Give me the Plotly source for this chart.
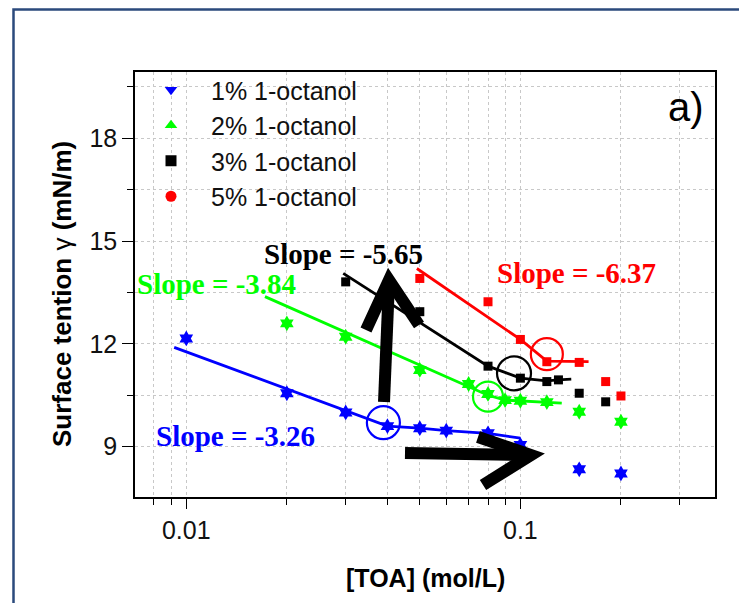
import plotly.graph_objects as go

# ---------------- data ----------------
labels = ["1% 1-octanol", "2% 1-octanol", "3% 1-octanol", "5% 1-octanol"]
colors = ["#0000FF", "#00FF00", "#000000", "#FF0000"]

conc_1 = [0.01, 0.02, 0.03, 0.04, 0.05, 0.06, 0.08, 0.10, 0.15, 0.20]
st_1 = [12.16, 10.56, 10.00, 9.60, 9.54, 9.47, 9.39, 9.05, 8.34, 8.22]

conc_2 = [0.02, 0.03, 0.05, 0.07, 0.08, 0.09, 0.10, 0.12, 0.15, 0.20]
st_2 = [12.60, 12.21, 11.24, 10.83, 10.54, 10.36, 10.34, 10.30, 10.02, 9.73]

conc_3 = [0.03, 0.05, 0.08, 0.10, 0.12, 0.13, 0.15, 0.18]
st_3 = [13.81, 12.94, 11.35, 11.00, 10.90, 10.95, 10.56, 10.31]

conc_5 = [0.05, 0.08, 0.10, 0.12, 0.15, 0.18, 0.20]
st_5 = [13.91, 13.23, 12.13, 11.48, 11.46, 10.90, 10.48]

# fitted / guide lines
fit1_x = [0.0092, 0.04, 0.05, 0.06, 0.08, 0.10]
fit1_y = [11.90, 9.60, 9.54, 9.47, 9.39, 9.25]
fit2_x = [0.0172, 0.08, 0.09, 0.10, 0.12, 0.133]
fit2_y = [13.38, 10.50, 10.36, 10.34, 10.30, 10.27]
fit3_x = [0.0295, 0.08, 0.10, 0.12, 0.13, 0.142]
fit3_y = [14.06, 11.35, 11.00, 10.92, 10.95, 10.97]
fit5_x = [0.049, 0.10, 0.12, 0.16]
fit5_y = [14.20, 12.13, 11.50, 11.48]

# CMC circles
cmc_x = [0.0389, 0.080, 0.0957, 0.120]
cmc_y = [9.70, 10.46, 11.14, 11.70]

slopes = ["Slope = -3.26", "Slope = -3.84", "Slope = -5.65", "Slope = -6.37"]

x_major = [0.01, 0.1]
x_major_text = ["0.01", "0.1"]
x_minor = [0.008, 0.009, 0.02, 0.03, 0.04, 0.05, 0.06, 0.07, 0.08, 0.09, 0.2, 0.3]
y_major = [9, 12, 15, 18]
y_minor = [10.5, 13.5, 16.5, 19.5]

# ---------------- layout geometry ----------------
W, H = 739, 603
L, R, T, B = 135, 24, 72, 106
PW, PH = W - L - R, H - T - B


def px(x):
    return (x - L) / PW


def py(y):
    return (H - B - y) / PH


SANS = "Liberation Sans, Arial, sans-serif"
SERIF = "Liberation Serif, Times New Roman, serif"

fig = go.Figure()

fits = [(fit1_x, fit1_y), (fit2_x, fit2_y), (fit3_x, fit3_y), (fit5_x, fit5_y)]
pts = [(conc_1, st_1, "hexagram", 12), (conc_2, st_2, "hexagram", 12),
       (conc_3, st_3, "square", 9), (conc_5, st_5, "square", 9)]
legend_sym = ["triangle-down", "triangle-up", "square", "circle"]

for i in range(4):
    fx, fy = fits[i]
    fig.add_trace(go.Scatter(x=fx, y=fy, mode="lines",
                             line=dict(color=colors[i], width=2.8),
                             showlegend=False, hoverinfo="skip"))
for i in range(4):
    x, y, sym, sz = pts[i]
    fig.add_trace(go.Scatter(x=x, y=y, mode="markers",
                             marker=dict(symbol=sym, size=sz, color=colors[i]),
                             showlegend=False))
# CMC circles
for i in range(4):
    fig.add_trace(go.Scatter(x=[cmc_x[i]], y=[cmc_y[i]], mode="markers",
                             marker=dict(symbol="circle-open", size=[33, 30, 34, 32][i],
                                         color=colors[i], line=dict(width=2.2, color=colors[i])),
                             showlegend=False, hoverinfo="skip"))
# legend entries
for i in range(4):
    fig.add_trace(go.Scatter(x=[None], y=[None], mode="markers", name=labels[i],
                             marker=dict(symbol=legend_sym[i], size=11, color=colors[i])))

# slope labels
slope_pos = [(235, 436), (216, 284), (343, 254), (576, 273)]
for i in range(4):
    fig.add_annotation(x=px(slope_pos[i][0]), y=py(slope_pos[i][1]), xref="paper", yref="paper",
                       xanchor="center", yanchor="middle",
                       text=slopes[i], showarrow=False,
                       font=dict(family=SERIF, size=29, color=colors[i], weight="bold"))

# panel label
fig.add_annotation(x=px(686), y=py(107), xref="paper", yref="paper", text="a)",
                   xanchor="center", yanchor="middle",
                   showarrow=False, font=dict(family=SANS, size=40, color="black"))

# axis titles
fig.add_annotation(x=px(425), y=py(578), xref="paper", yref="paper",
                   xanchor="center", yanchor="middle",
                   text="<b>[TOA] (mol/L)</b>", showarrow=False,
                   font=dict(family=SANS, size=25, color="black"))
fig.add_annotation(x=px(62), y=py(294), xref="paper", yref="paper",
                   xanchor="center", yanchor="middle",
                   text="<b>Surface tention </b>γ<b> (mN/m)</b>", showarrow=False,
                   textangle=-90, font=dict(family=SANS, size=26, color="black"))


def path(points):
    return "M " + " L ".join(f"{px(a):.5f},{py(b):.5f}" for a, b in points)


shapes = []
# hand drawn arrows
for pts_ in ([(384, 402), (389, 282)], [(366, 330), (389, 280), (419, 325)],
             [(405, 453), (528, 455)], [(478, 437), (531, 455), (483, 485)]):
    shapes.append(dict(type="path", xref="paper", yref="paper", path=path(pts_),
                       line=dict(color="black", width=12)))
# outer figure frame
shapes.append(dict(type="rect", xref="paper", yref="paper",
                   x0=px(13.5), x1=px(900), y0=py(9.5), y1=py(900),
                   line=dict(color="#2B4A7C", width=2.5), layer="below"))

grid = dict(showgrid=True, gridcolor="#C8C8C8", griddash="dot", gridwidth=1)

fig.update_layout(
    width=W, height=H,
    margin=dict(l=L, r=R, t=T, b=B),
    paper_bgcolor="white", plot_bgcolor="white",
    font=dict(family=SANS, size=25, color="black"),
    shapes=shapes,
    showlegend=True,
    legend=dict(x=px(131), y=py(67), xanchor="left", yanchor="top",
                bgcolor="rgba(0,0,0,0)", itemwidth=70,
                font=dict(family=SANS, size=25, color="#111111"),
                tracegroupgap=0),
    xaxis=dict(type="log", range=[-2.1535, -0.4175],
               tickmode="array", tickvals=x_major, ticktext=x_major_text,
               ticks="outside", ticklen=10, tickwidth=1.3, tickcolor="black",
               showline=True, linecolor="black", linewidth=1.5, mirror=True,
               tickfont=dict(family=SANS, size=25, color="#111111"),
               minor=dict(tickmode="array", tickvals=x_minor, ticks="outside",
                          ticklen=6, tickwidth=1.2, tickcolor="black", **grid),
               zeroline=False, **grid),
    yaxis=dict(range=[7.532, 19.935],
               tickmode="array", tickvals=y_major,
               ticks="outside", ticklen=11, tickwidth=1.3, tickcolor="black",
               showline=True, linecolor="black", linewidth=1.5, mirror=True,
               tickfont=dict(family=SANS, size=25, color="#111111"),
               minor=dict(tickmode="array", tickvals=y_minor, ticks="outside",
                          ticklen=6, tickwidth=1.2, tickcolor="black", **grid),
               zeroline=False, **grid),
)

fig.write_html("out.html")
